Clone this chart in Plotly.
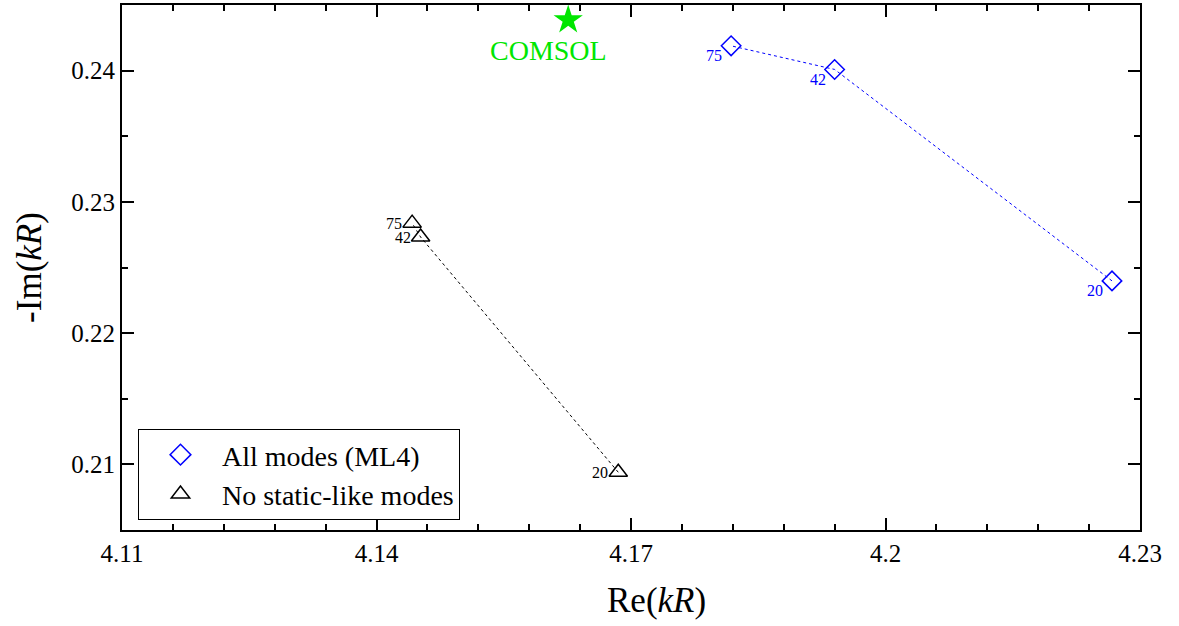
import plotly.graph_objects as go

# Complex eigenvalue kR for different numbers of modes
labels = ["20", "42", "75"]
re_all = [4.2267, 4.1940, 4.1818]
im_all = [0.22398, 0.24009, 0.24189]
re_nostatic = [4.1685, 4.1452, 4.1442]
im_nostatic = [0.20940, 0.22732, 0.22838]
re_comsol = [4.1626]
im_comsol = [0.24386]

x_ticks = [4.11, 4.14, 4.17, 4.2, 4.23]
x_ticktext = ["4.11", "4.14", "4.17", "4.2", "4.23"]
y_ticks = [0.21, 0.22, 0.23, 0.24]
y_ticktext = ["0.21", "0.22", "0.23", "0.24"]

FONT = "Liberation Serif, serif"
BLUE = "#0000ff"
BLACK = "#000000"
GREEN = "#00e600"

fig = go.Figure()

# curves (lines + markers); the legend uses marker-only proxies below
fig.add_trace(go.Scatter(
    x=re_all, y=im_all, mode="lines+markers", showlegend=False,
    line=dict(color=BLUE, width=1, dash="dot"),
    marker=dict(symbol="diamond-open", size=15, color=BLUE, line=dict(width=1.5)),
))
fig.add_trace(go.Scatter(
    x=re_nostatic, y=im_nostatic, mode="lines+markers", showlegend=False,
    line=dict(color=BLACK, width=1, dash="dot"),
    marker=dict(symbol="triangle-up-open", size=16, color=BLACK, line=dict(width=1.5)),
))
fig.add_trace(go.Scatter(
    x=re_comsol, y=im_comsol, mode="markers", showlegend=False,
    marker=dict(symbol="star", size=22, color=GREEN, line=dict(width=0)),
))

# legend proxies
fig.add_trace(go.Scatter(
    x=[None], y=[None], mode="markers", name="All modes (ML4)",
    marker=dict(symbol="diamond-open", size=16, color=BLUE, line=dict(width=1.5)),
))
fig.add_trace(go.Scatter(
    x=[None], y=[None], mode="markers", name="No static-like modes",
    marker=dict(symbol="triangle-up-open", size=17, color=BLACK, line=dict(width=1.5)),
))

# point labels (number of modes)
for xs, ys, col, dx, dy in [
    (re_all, im_all, BLUE, -8, -10),
    (re_nostatic, im_nostatic, BLACK, -9, 0),
]:
    for xv, yv, lab in zip(xs, ys, labels):
        fig.add_annotation(
            x=xv, y=yv, text=lab, showarrow=False,
            xanchor="right", yanchor="middle", xshift=dx, yshift=dy,
            font=dict(family=FONT, size=16, color=col), borderpad=0,
        )

fig.add_annotation(
    x=re_comsol[0], y=im_comsol[0], text="COMSOL", showarrow=False,
    xshift=-20, yshift=-31,
    font=dict(family=FONT, size=28, color=GREEN),
)

# x-axis title
fig.add_annotation(
    xref="paper", yref="paper", x=0.5255, y=0, text="Re(<i>kR</i>)",
    showarrow=False, xanchor="center", yanchor="middle", yshift=-70,
    font=dict(family=FONT, size=35, color="black"),
)

axis_common = dict(
    showline=True, linecolor="black", linewidth=2, mirror="allticks",
    ticks="inside", ticklen=12, tickwidth=2, tickcolor="black",
    showgrid=False, zeroline=False,
    tickfont=dict(family=FONT, size=25, color="black"),
)

fig.update_xaxes(
    range=[4.11, 4.23],
    tickvals=x_ticks, ticktext=x_ticktext,
    minor=dict(dtick=0.006, tick0=4.11, ticks="inside", ticklen=6, tickwidth=2, tickcolor="black", showgrid=False),
    **axis_common,
)
fig.update_yaxes(
    range=[0.205, 0.245],
    tickvals=y_ticks, ticktext=y_ticktext,
    minor=dict(dtick=0.005, tick0=0.2, ticks="inside", ticklen=6, tickwidth=2, tickcolor="black", showgrid=False),
    title=dict(text="-Im(<i>kR</i>)", font=dict(family=FONT, size=35, color="black"), standoff=19),
    **axis_common,
)

fig.update_layout(
    width=1179, height=626,
    margin=dict(l=122, r=39, t=3, b=96),
    font=dict(family=FONT, size=25, color="black"),
    plot_bgcolor="white", paper_bgcolor="white",
    showlegend=True,
    legend=dict(
        x=0.0157, y=0.1925, xanchor="left", yanchor="top",
        bgcolor="white", bordercolor="black", borderwidth=1,
        font=dict(family=FONT, size=28, color="black"),
        itemsizing="trace", tracegroupgap=0, itemwidth=73,
    ),
)

fig.write_html("out.html")
